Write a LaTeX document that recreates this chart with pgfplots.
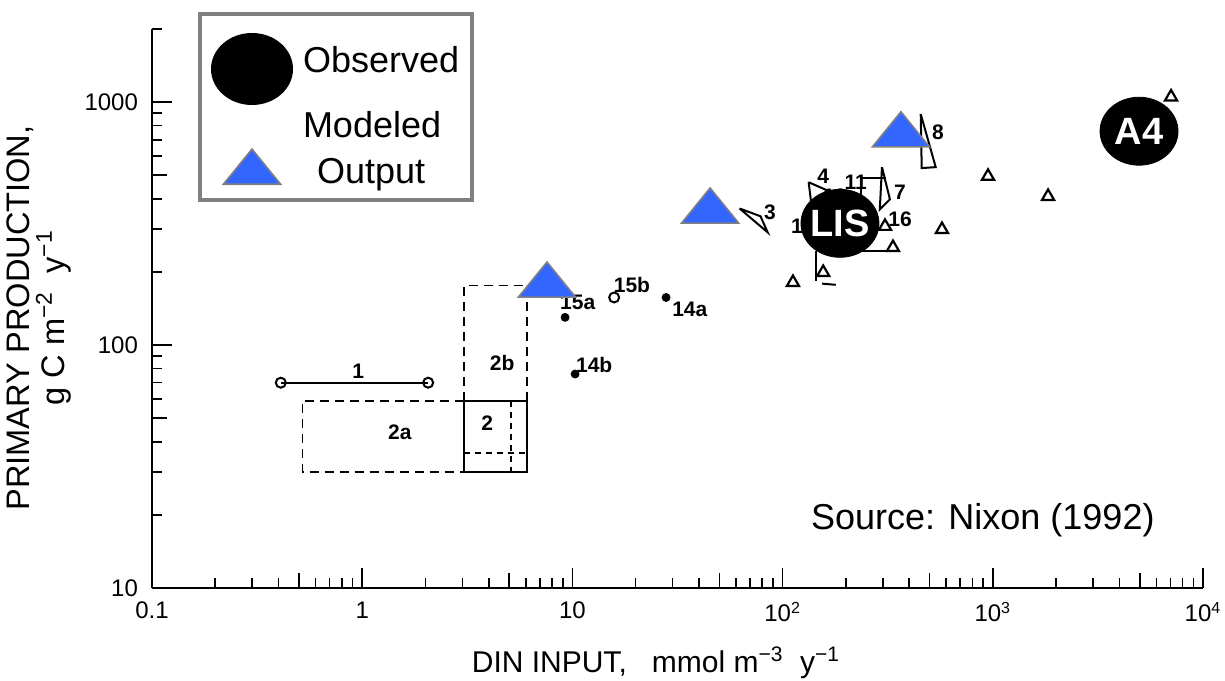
\documentclass[border=0pt]{standalone}
\usepackage{fontspec}
\setmainfont{Liberation Sans}
\usepackage{pgfplots}
\pgfplotsset{compat=1.18}
\definecolor{modelblue}{HTML}{3366FF}
\definecolor{legendgray}{HTML}{808080}
\pgfplotsset{
  obsimg/.style={legend image code/.code={\draw[##1] plot coordinates {(0pt,-4pt)}; \path[draw=none,fill=none] (0pt,17pt) -- (0pt,-21pt);}},
  modimg/.style={legend image code/.code={\draw[##1] plot coordinates {(0pt,0pt)};}},
  empimg/.style={legend image code/.code={}},
}
\begin{document}
\begin{tikzpicture}
\useasboundingbox (-76pt,-46pt) rectangle (536.5pt,294pt);
\begin{axis}[
  at={(0pt,0pt)}, anchor=south west,
  scale only axis, width=525.5pt, height=279.5pt,
  xmode=log, ymode=log,
  xmin=0.1, xmax=10000, ymin=10, ymax=2000,
  clip=false,
  axis lines*=left,
  axis line style={line width=1pt, black},
  tick align=inside,
  tick style={black, line width=0.8pt},
  major tick length=10pt, minor tick length=5pt,
  xtick={0.1,1,10,100,1000,10000},
  xticklabels={0.1,1,10,10\textsuperscript{2},10\textsuperscript{3},10\textsuperscript{4}},
  ytick={10,100,1000},
  yticklabels={10,100,1000},
  minor xtick={0.2,0.3,0.4,0.6,0.7,0.8,0.9,2,3,4,6,7,8,9,20,30,40,60,70,80,90,200,300,400,600,700,800,900,2000,3000,4000,6000,7000,8000,9000},
  minor ytick={20,30,40,60,70,80,90,200,300,400,600,700,800,900,2000},
  extra x ticks={0.5,5,50,500,5000},
  extra x tick labels={},
  extra x tick style={major tick length=7.5pt},
  extra y ticks={50,500},
  extra y tick labels={},
  extra y tick style={major tick length=7.5pt},
  tick label style={font=\fontsize{12}{14}\selectfont},
  xticklabel style={yshift=-3.5pt},
  yticklabel style={xshift=-3.5pt},
  xlabel={DIN INPUT,\ \ \ mmol m\textsuperscript{−3}\ \ y\textsuperscript{−1}},
  xlabel style={at={(axis description cs:0.4795,-0.134)}, anchor=center, font=\fontsize{15}{18}\selectfont},
  ylabel={PRIMARY PRODUCTION,\\g C m\textsuperscript{−2}\ \ y\textsuperscript{−1}},
  ylabel style={at={(axis description cs:-0.1075,0.483)}, anchor=center, align=center, font=\fontsize{16.3}{16}\selectfont},
  legend style={at={(rel axis cs:0.04377,1.0304)}, anchor=north west,
    draw=legendgray, line width=2pt, fill=white,
    inner xsep=6.5pt, inner ysep=6.5pt,
    row sep=4.25pt, column sep=6pt,
    nodes={inner sep=0pt},
    font=\fontsize{18}{22.5}\selectfont},
  legend cell align=left,
]
% legend images
\addlegendimage{only marks, mark=*, mark size=19.5pt, mark options={fill=black, draw=none, yscale=0.872}, obsimg}
\addlegendentry{Observed}
\addlegendimage{empimg}
\addlegendentry{Modeled}
\addlegendimage{only marks, mark=triangle*, mark size=16.5pt, mark options={fill=modelblue, draw=legendgray, line width=0.8pt, yscale=0.71}, modimg}
\addlegendentry{\hspace*{7pt}Output}

% ---- scanned figure content ----
% 1
\addplot[black, line width=0.9pt, mark=o, mark size=2.5pt, mark options={solid, fill=white, line width=1pt}] coordinates {(0.41,70) (2.06,70)};
% 2a
\addplot[black, line width=0.9pt, dash pattern=on 4.5pt off 3pt] coordinates {(3.05,59) (0.52,59) (0.52,30) (3.05,30)};
% 2b
\addplot[black, line width=0.9pt, dash pattern=on 4.5pt off 3pt] coordinates {(3.05,59) (3.05,176) (6.1,176) (6.1,59)};
% 2
\addplot[black, line width=0.9pt] coordinates {(3.05,30) (6.1,30) (6.1,59) (3.05,59) (3.05,30)};
\addplot[black, line width=0.9pt, dash pattern=on 3pt off 2.5pt] coordinates {(5.1,59) (5.1,30)};
\addplot[black, line width=0.9pt, dash pattern=on 3pt off 2.5pt] coordinates {(3.05,36) (6.1,36)};
% 3
\addplot[black, line width=1pt] coordinates {(62.4,365) (78.5,339) (84.9,291) (62.4,365)};
% 8
\addplot[black, line width=1pt] coordinates {(454,893) (459,535) (535,540) (454,893)};
% 4
\addplot[black, line width=1pt] coordinates {(133,468) (179,418) (139,345) (133,468)};
% 11
\addplot[black, line width=1pt] coordinates {(235,345) (235,486) (312,486)};
% 7
\addplot[black, line width=1pt] coordinates {(297,540) (290,362) (324,398) (297,540)};
% lower bracket
\addplot[black, line width=1pt] coordinates {(200,243) (327,243)};
\addplot[black, line width=1pt] coordinates {(144,243) (144,183)};
\addplot[black, line width=1pt] coordinates {(154,179) (179,177)};
% open triangles
\addplot[only marks, mark=triangle, mark size=3.5pt, mark options={black, line width=1.1pt}] coordinates {(949,495) (1832,409) (573,299) (112,181) (7047,1050) (307,308) (335,252) (156,199)};
% dots
\addplot[only marks, mark=*, mark size=2pt, black] coordinates {(9.23,130) (27.9,157) (10.3,76)};
% open circle
\addplot[only marks, mark=o, mark size=2.5pt, mark options={black, line width=1pt}] coordinates {(15.8,157)};

% labels of the scanned figure
\begin{scope}[every node/.style={font=\fontsize{10.5}{12}\selectfont\bfseries, inner sep=0pt, anchor=center}]
\node at (axis cs:0.957,77.8) {1};
\node at (axis cs:1.51,43.6) {2a};
\node at (axis cs:3.93,47.9) {2};
\node at (axis cs:4.63,84) {2b};
\node at (axis cs:10.6,150) {15a};
\node at (axis cs:19.2,177) {15b};
\node at (axis cs:36.2,140) {14a};
\node at (axis cs:12.7,83) {14b};
\node at (axis cs:87.1,351) {3};
\node at (axis cs:156,495) {4};
\node at (axis cs:177,409) {10};
\node at (axis cs:223,468) {11};
\node at (axis cs:362,425) {7};
\node at (axis cs:362,330) {16};
\node at (axis cs:117,308) {1};
\node at (axis cs:548,752) {8};
\end{scope}

% modeled output
\addplot[only marks, mark=triangle*, mark size=16.5pt, mark options={fill=modelblue, draw=legendgray, line width=0.8pt, yscale=0.71}] coordinates {(7.57,176) (45.2,355) (365.6,731)};
% observed
\addplot[only marks, mark=*, mark size=19.5pt, mark options={fill=black, draw=none, yscale=0.872},
  point meta=explicit symbolic, nodes near coords, nodes near coords align={center},
  every node near coord/.append style={text=white, font=\fontsize{19}{22}\selectfont\bfseries, inner sep=0pt, anchor=center}]
  table[meta=lab] {
x y lab
187.5 317 LIS
4962 759 A4
};

\node[anchor=west, font=\fontsize{18}{22}\selectfont, inner sep=0pt] at (axis cs:136,19.05) {Source: Nixon (1992)};
\end{axis}
\end{tikzpicture}
\end{document}
